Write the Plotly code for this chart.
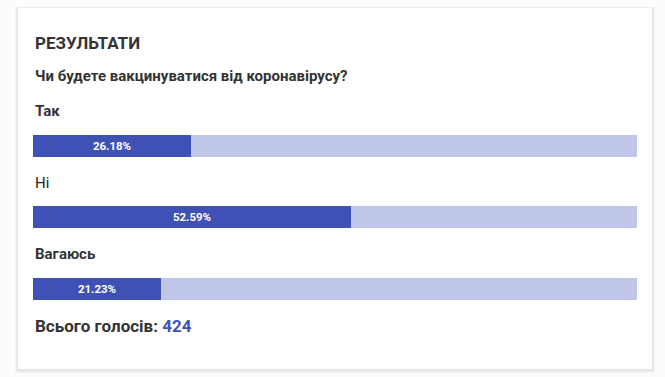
import plotly.graph_objects as go

title = "РЕЗУЛЬТАТИ"
question = "Чи будете вакцинуватися від коронавірусу?"
options = ["Так", "Ні", "Вагаюсь"]
percents = [26.18, 52.59, 21.23]
total_votes = 424
full_scale = [100, 100, 100]

W, H = 665, 377
DARK = "#3f51b5"
LIGHT = "#c0c6e9"
TEXT = "#333333"
FONT = "Roboto"

x0, x1 = 33, 637
row = 71.5
top = 146 - row / 2
bot = top + 3 * row

fig = go.Figure()
fig.add_trace(go.Bar(
    y=options, x=full_scale, orientation="h", marker=dict(color=LIGHT, line=dict(width=0)),
    width=0.31, hoverinfo="skip", showlegend=False,
))
fig.add_trace(go.Bar(
    y=options, x=percents, orientation="h", marker=dict(color=DARK, line=dict(width=0)),
    width=0.31, text=[f"{p:.2f}%" for p in percents], textposition="inside",
    insidetextanchor="middle", textangle=0,
    textfont=dict(family=FONT, size=11.5, color="white", weight="bold"),
    showlegend=False,
))

annotations = [
    dict(text=f"<b>{title}</b>", x=x0 / W, y=1 - 43 / H, xref="paper", yref="paper",
         xanchor="left", yanchor="middle", showarrow=False,
         font=dict(family=FONT, size=17, color=TEXT)),
    dict(text=f"<b>{question}</b>", x=x0 / W, y=1 - 76 / H, xref="paper", yref="paper",
         xanchor="left", yanchor="middle", showarrow=False,
         font=dict(family=FONT, size=15, color=TEXT)),
    dict(text=f"<b>Всього голосів:</b> <b><span style='color:{DARK}'>{total_votes}</span></b>",
         x=x0 / W, y=1 - 325.5 / H, xref="paper", yref="paper",
         xanchor="left", yanchor="middle", showarrow=False,
         font=dict(family=FONT, size=17, color=TEXT)),
]
label_offsets = [35, 35, 35]
for i, (opt, off) in enumerate(zip(options, label_offsets)):
    txt = opt if opt == "Ні" else f"<b>{opt}</b>"
    annotations.append(dict(
        text=txt, x=x0 / W, y=i, xref="paper", yref="y", yshift=off,
        xanchor="left", yanchor="middle", showarrow=False,
        font=dict(family=FONT, size=15, color="#222222" if opt == "Ні" else TEXT),
    ))

shapes = []
for k, c in enumerate(["#f4f4f4", "#ededed", "#e4e4e4"]):
    d = 3 - k
    shapes.append(dict(type="rect", xref="paper", yref="paper", layer="below",
                       x0=(18 - d) / W, x1=(652 + d) / W, y0=1 - (370 + d) / H, y1=1 - (8 - d * 0.3) / H,
                       fillcolor=c, line=dict(width=0)))
shapes.append(dict(type="rect", xref="paper", yref="paper", layer="below",
                   x0=18 / W, x1=652 / W, y0=1 - 369 / H, y1=1 - 8 / H,
                   fillcolor="white", line=dict(width=0)))

fig.update_layout(
    width=W, height=H, margin=dict(l=0, r=0, t=0, b=0),
    paper_bgcolor="#fcfcfc", plot_bgcolor="rgba(0,0,0,0)",
    barmode="overlay", bargap=0,
    xaxis=dict(domain=[x0 / W, x1 / W], range=[0, 100], visible=False, fixedrange=True),
    yaxis=dict(domain=[1 - bot / H, 1 - top / H], range=[2.5, -0.5], visible=False,
               type="category", fixedrange=True),
    annotations=annotations, shapes=shapes,
    uniformtext=dict(minsize=8, mode="show"),
)

fig.write_html("out.html", config={"displayModeBar": False},
               post_script="document.body.style.margin='0';document.body.style.overflow='hidden';")
